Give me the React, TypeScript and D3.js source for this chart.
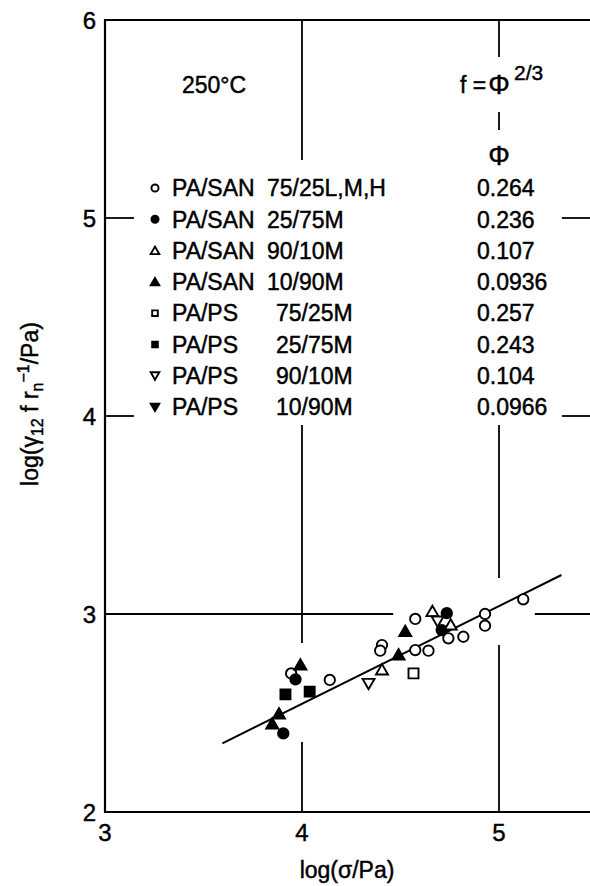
import React from 'react';
import * as d3 from 'd3';

// series, in legend order
const seriesNames = ['PA/SAN', 'PA/SAN', 'PA/SAN', 'PA/SAN', 'PA/PS', 'PA/PS', 'PA/PS', 'PA/PS'];
const seriesRatios = ['75/25L,M,H', '25/75M', '90/10M', '10/90M', '75/25M', '25/75M', '90/10M', '10/90M'];
const seriesPhi = ['0.264', '0.236', '0.107', '0.0936', '0.257', '0.243', '0.104', '0.0966'];
const seriesShape = ['circle', 'circle', 'triangle', 'triangle', 'square', 'square', 'down', 'down'];
const seriesFilled = [false, true, false, true, false, true, false, true];

// [log sigma, log(gamma12 f rn^-1)] per series
const sanOpenCircle = [
  [3.945, 2.70], [4.141, 2.667], [4.406, 2.843], [4.397, 2.815], [4.575, 2.975],
  [4.575, 2.818], [4.642, 2.815], [4.743, 2.877], [4.819, 2.885], [4.929, 3.0],
  [4.929, 2.941], [5.123, 3.074]
];
const sanFilledCircle = [[4.735, 3.004], [4.709, 2.919], [3.967, 2.67], [3.905, 2.397]];
const sanOpenTriangle = [[4.406, 2.717], [4.662, 3.012], [4.755, 2.944]];
const sanFilledTriangle = [[3.992, 2.742], [4.524, 2.911], [4.49, 2.793], [3.883, 2.495], [3.849, 2.444]];
const psOpenSquare = [[4.566, 2.70]];
const psFilledSquare = [[3.916, 2.594], [4.039, 2.608]];
const psOpenDown = [[4.338, 2.65], [4.688, 2.965]];
const psFilledDown: number[][] = [];
const seriesData = [sanOpenCircle, sanFilledCircle, sanOpenTriangle, sanFilledTriangle,
  psOpenSquare, psFilledSquare, psOpenDown, psFilledDown];

// fitted line end points
const fitLine = [[3.596, 2.347], [5.317, 3.197]];

const xTicks = [3, 4, 5];
const yTicks = [2, 3, 4, 5, 6];

// broken grid lines (gaps for text and data), data units
const vGrid = [
  { x: 4, segs: [[6, 5.293], [3.955, 2.854], [2.354, 2]] },
  { x: 5, segs: [[6, 5.813], [5.535, 5.444], [3.955, 3.182], [2.843, 2]] }
];
const hGrid = [
  { y: 3, segs: [[3, 4.463], [5.182, 5.47]] },
  { y: 4, segs: [[3, 3.147], [5.319, 5.47]] },
  { y: 5, segs: [[3, 3.147], [5.319, 5.47]] }
];

const W = 590, H = 886;
const font = '"Liberation Sans", Arial, sans-serif';

function markerPath(shape: string, size: number) {
  if (shape === 'circle') return d3.symbol(d3.symbolCircle, size)()!;
  if (shape === 'square') return d3.symbol(d3.symbolSquare, size)()!;
  return d3.symbol(d3.symbolTriangle, size)()!;
}

function Marker({ cx, cy, i, size }: { cx: number; cy: number; i: number; size: number }) {
  const shape = seriesShape[i];
  const filled = seriesFilled[i];
  const rot = shape === 'down' ? 180 : 0;
  const dy = shape === 'triangle' ? 1 : shape === 'down' ? -1 : 0;
  return (
    <path
      d={markerPath(shape, size)}
      transform={`translate(${cx},${cy + dy}) rotate(${rot})`}
      fill={filled ? '#000' : '#fff'}
      stroke="#000"
      strokeWidth={1.9}
    />
  );
}

export default function App() {
  const x = d3.scaleLinear().domain([3, 5]).range([105, 499]);
  const y = d3.scaleLinear().domain([2, 6]).range([812, 20]);
  const line = d3.line<number[]>().x(d => x(d[0])).y(d => y(d[1]));

  const rowY = (i: number) => 188 + i * 31.3;

  return (
    <svg width={W} height={H} style={{ position: 'absolute', left: 0, top: 0, background: '#fff' }}
      fontFamily={font}>
      <rect width={W} height={H} fill="#fff" />
      {/* frame */}
      <path d={`M${W},${y(6)}H${x(3)}V${y(2)}H${W}`} fill="none" stroke="#000" strokeWidth={2.2} />
      {vGrid.map(g => g.segs.map((s, k) => (
        <line key={`v${g.x}-${k}`} x1={x(g.x)} x2={x(g.x)} y1={y(s[0])} y2={y(s[1])}
          stroke="#000" strokeWidth={1.8} />
      )))}
      {hGrid.map(g => g.segs.map((s, k) => (
        <line key={`h${g.y}-${k}`} x1={x(s[0])} x2={x(s[1])} y1={y(g.y)} y2={y(g.y)}
          stroke="#000" strokeWidth={1.8} />
      )))}
      <g stroke="#000" strokeWidth={0.45}>
        {/* tick labels */}
        {xTicks.map(t => (
          <text key={`xt${t}`} x={x(t)} y={841} fontSize={24} textAnchor="middle">{t}</text>
        ))}
        {yTicks.map(t => (
          <text key={`yt${t}`} x={96} y={y(t)} dy="0.36em" fontSize={24} textAnchor="end">{t}</text>
        ))}
        {/* axis titles */}
        <text x={347} y={878} fontSize={23} textAnchor="middle">log(σ/Pa)</text>
        <text transform={`translate(38,404) rotate(-90)`} fontSize={23} textAnchor="middle">
          log(γ<tspan fontSize={16} dy={5}>12</tspan>
          <tspan dy={-5}> f r</tspan>
          <tspan fontSize={16} dy={5}>n</tspan>
          <tspan fontSize={16} dy={-14}>−1</tspan>
          <tspan dy={9}>/Pa)</tspan>
        </text>
        {/* annotations */}
        <text x={182} y={93} fontSize={23}>250°C</text>
        <text x={460} y={93} fontSize={23}>f =</text>
        <text x={x(5)} y={94} fontSize={27} textAnchor="middle">Φ</text>
        <text x={514} y={80} fontSize={21}>2/3</text>
        <text x={x(5)} y={165} fontSize={27} textAnchor="middle">Φ</text>
        {/* legend */}
        {seriesNames.map((n, i) => (
          <g key={`lg${i}`}>
            <text x={172} y={rowY(i)} dy="0.36em" fontSize={23}>{n}</text>
            <text x={i < 4 ? 267 : 276} y={rowY(i)} dy="0.36em" fontSize={23}>{seriesRatios[i]}</text>
            <text x={477} y={rowY(i)} dy="0.36em" fontSize={23}>{seriesPhi[i]}</text>
          </g>
        ))}
      </g>
      {seriesNames.map((n, i) => (
        <Marker key={`lm${i}`} cx={155} cy={rowY(i)} i={i} size={seriesShape[i] === 'circle' ? 40 : 32} />
      ))}
      {/* fit */}
      <path d={line(fitLine)!} fill="none" stroke="#000" strokeWidth={2} />
      {/* data */}
      {seriesData.map((pts, i) => pts.map((p, k) => (
        <Marker key={`m${i}-${k}`} cx={x(p[0])} cy={y(p[1])} i={i}
          size={seriesShape[i] === 'circle' ? 85 : seriesShape[i] === 'square' ? 100 : 62} />
      )))}
    </svg>
  );
}
